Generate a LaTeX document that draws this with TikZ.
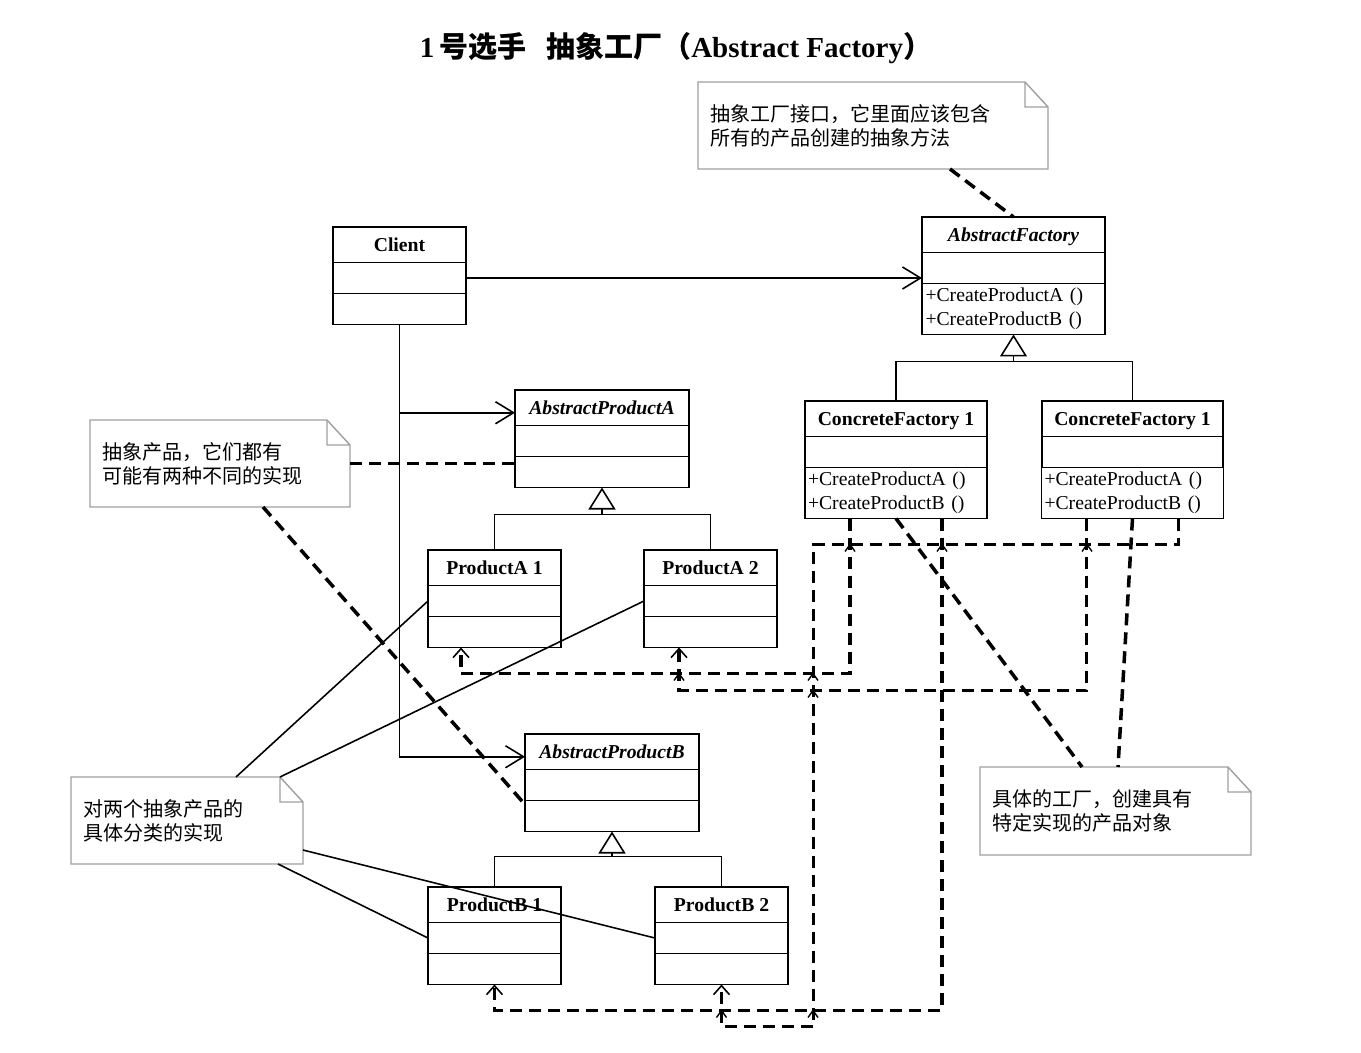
\documentclass[tikz,border=0pt]{standalone}
\usepackage{fontspec}
\setmainfont{Liberation Serif}
\newfontfamily\cjk{Noto Sans CJK SC}
\usetikzlibrary{positioning,arrows.meta}

\tikzset{
  clsbox/.style={draw, line width=0.55pt, inner sep=0pt, outer sep=0pt, font=\fontsize{5.6pt}{6.8pt}\selectfont},
  clshead/.style={clsbox, minimum height=3.55mm, text height=3.7pt, text depth=0pt, font=\fontsize{5.6pt}{6.8pt}\selectfont\bfseries},
  clspart/.style={clsbox, minimum height=3.1mm},
  clsops/.style={clsbox, minimum height=5.1mm, text width=17.6mm, inner xsep=0.3mm, align=left},
  note/.style={inner xsep=1.2mm, inner ysep=0pt, outer sep=0pt, align=left, anchor=north west, font=\cjk\fontsize{5.7pt}{6.83pt}\selectfont},
  noteline/.style={draw=gray!75, line width=0.4pt},
  uml/.style={line width=0.45pt},
  assoc/.style={uml, -{Straight Barb[length=1.8mm, width=2.2mm]}},
  inherit/.style={uml, -{Triangle[open, length=2.2mm, width=2.7mm]}},
  notedep/.style={line width=1pt, dash pattern=on 1.2mm off 0.7mm},
  dep/.style={notedep, -{Straight Barb[length=0.9mm, width=1.6mm, line width=0.45pt]}},
  jump/.style={line width=0.4pt},
}

% class box: name, north west corner, width, title, style of last part, operations
\newcommand\umlclass[6]{%
  \node[clshead, minimum width=#3, anchor=north west] (#1) at (#2) {#4};
  \node[clspart, minimum width=#3, below=0pt of #1] (#1-a) {};
  \node[#5, minimum width=#3, below=0pt of #1-a] (#1-m) {#6};}

% note outline with folded corner
\newcommand\notefold[1]{%
  \draw[noteline] (#1.north west) -- ([xshift=-2.3mm]#1.north east) -- ([yshift=-2.5mm]#1.north east)
    -- (#1.south east) -- (#1.south west) -- cycle
    ([xshift=-2.3mm]#1.north east) |- ([yshift=-2.5mm]#1.north east);}

\begin{document}
\begin{tikzpicture}[x=0.1mm, y=-0.1mm]
\useasboundingbox (0,0) rectangle (1361,1053);

\node[font=\fontsize{8.25pt}{10pt}\selectfont\bfseries] (title) at (676,48)
  {1\,{\cjk 号选手}\hspace{2mm}{\cjk 抽象工厂（}Abstract Factory{\cjk ）}};

% classes
\umlclass{client}{333,227}{13.3mm}{Client}{clspart}{}
\umlclass{af}{922,217}{18.3mm}{\textit{AbstractFactory}}{clsops}{+CreateProductA ()\\+CreateProductB ()}
\umlclass{cf1}{805,401}{18.2mm}{ConcreteFactory 1}{clsops}{+CreateProductA ()\\+CreateProductB ()}
\umlclass{cf2}{1042,401}{18.1mm}{ConcreteFactory 1}{clsops}{+CreateProductA ()\\+CreateProductB ()}
\umlclass{apa}{515,390}{17.4mm}{\textit{AbstractProductA}}{clspart}{}
\umlclass{pa1}{428,550}{13.3mm}{ProductA 1}{clspart}{}
\umlclass{pa2}{644,550}{13.3mm}{ProductA 2}{clspart}{}
\umlclass{apb}{525,734}{17.4mm}{\textit{AbstractProductB}}{clspart}{}
\umlclass{pb1}{428,887}{13.3mm}{ProductB 1}{clspart}{}
\umlclass{pb2}{655,887}{13.3mm}{ProductB 2}{clspart}{}

% notes
\node[note, text width=32.6mm, minimum height=8.7mm] (n1) at (698,82) {抽象工厂接口，它里面应该包含\\所有的产品创建的抽象方法};
\node[note, text width=23.6mm, minimum height=8.7mm] (n2) at (90,420) {抽象产品，它们都有\\可能有两种不同的实现};
\node[note, text width=20.8mm, minimum height=8.7mm] (n3) at (71,777) {对两个抽象产品的\\具体分类的实现};
\node[note, text width=24.7mm, minimum height=8.8mm] (n4) at (980,767) {具体的工厂，创建具有\\特定实现的产品对象};
\notefold{n1}
\notefold{n2}
\notefold{n3}
\notefold{n4}

% client associations
\coordinate (apain) at ([yshift=-0.5mm]apa.west);
\coordinate (apbin) at ([yshift=-0.5mm]apb.west);
\draw[assoc] (client-a.east) -- (client-a.east -| af.west);
\draw[assoc] (client-m.south) |- (apbin);
\draw[assoc] (apain -| client-m.south) -- (apain);

% generalizations
\path (af-m.south) ++(0,27) coordinate (afbar);
\path (apa-m.south) ++(0,27) coordinate (apabar);
\path (apb-m.south) ++(0,25) coordinate (apbbar);
\draw[inherit] (afbar) -- (af-m.south);
\draw[uml] (cf1.north) |- (afbar) -| (cf2.north);
\draw[inherit] (apabar) -- (apa-m.south);
\draw[uml] (pa1.north) |- (apabar) -| (pa2.north);
\draw[inherit] (apbbar) -- (apb-m.south);
\draw[uml] (pb1.north) |- (apbbar) -| (pb2.north);

% note links
\draw[notedep] ([xshift=7.7mm]n1.south) -- (af.north);
\draw[notedep] (n2.east) -- (n2.east -| apa.west);
\draw[notedep] ([xshift=4.3mm]n2.south) -- ([yshift=-0.4mm]apb-a.south west);
\draw[notedep] (cf1-m.south) -- ([xshift=-3.35mm]n4.north);
\draw[notedep] (cf2-m.south) -- ([xshift=0.25mm]n4.north);
\draw[uml] ([xshift=4.9mm]n3.north) -- (pa1-a.west);
\draw[uml] ([xshift=-2.3mm]n3.north east) -- (pa2-a.west);
\draw[uml] ([yshift=-2.95mm]n3.east) -- (pb2-a.west);
\draw[uml] ([xshift=-2.5mm]n3.south east) -- (pb1-a.west);

% factories create products
\draw[dep] ([xshift=4.5mm]cf1-m.south west) -- ++(0,155) -| ([xshift=-3.35mm]pa1-m.south);
\draw[dep] ([xshift=4.5mm]cf2-m.south west) -- ++(0,172) -| ([xshift=-3.15mm]pa2-m.south);
\draw[dep] ([xshift=-4.5mm]cf1-m.south east) -- ++(0,492) -| (pb1-m.south);
\draw[dep] ([xshift=-4.5mm]cf2-m.south east) -- ++(0,26) -- ++(-365,0) -- ++(0,482) -| (pb2-m.south);

% marks where the dashed lines cross
\foreach \x/\y in {850/544.5, 942/544.5, 1087/544.5, 679/673.5, 813/673.5, 813/690.5, 721.5/1010.5, 813/1010.5}
  \draw[jump] (\x,\y) ++(-5,7) -- ++(5,-7) -- ++(5,7);
\end{tikzpicture}
\end{document}
